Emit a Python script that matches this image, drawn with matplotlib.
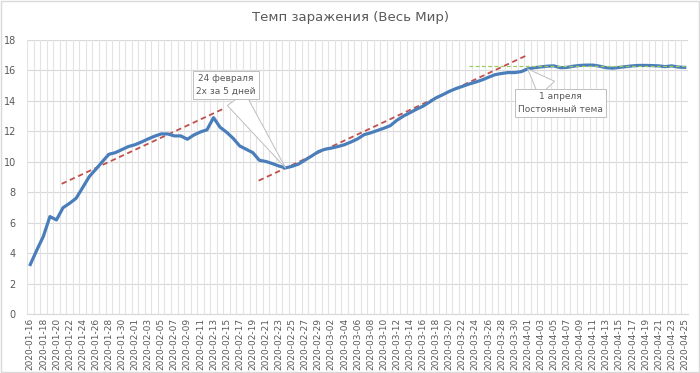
import matplotlib
matplotlib.use("Agg")
import matplotlib.pyplot as plt
from matplotlib.patches import Rectangle
import numpy as np
import pandas as pd

# categories: one per day
dates = pd.date_range("2020-01-16", "2020-04-25", freq="D").strftime("%Y-%m-%d").tolist()

# infection rate
rate = [
    3.25, 4.2, 5.1, 6.4, 6.18, 6.98, 7.27, 7.6, 8.3, 9.02,
    9.5, 10.0, 10.49, 10.6, 10.8, 11.0, 11.12, 11.3, 11.5, 11.68,
    11.83, 11.83, 11.7, 11.7, 11.48, 11.76, 11.96, 12.1, 12.9, 12.27,
    11.94, 11.54, 11.04, 10.82, 10.6, 10.1, 10.02, 9.88, 9.72, 9.6,
    9.7, 9.85, 10.12, 10.38, 10.66, 10.82, 10.9, 11.0, 11.12, 11.3,
    11.5, 11.78, 11.9, 12.05, 12.2, 12.37, 12.72, 13.0, 13.22, 13.45,
    13.65, 13.92, 14.2, 14.4, 14.62, 14.8, 14.95, 15.1, 15.23, 15.37,
    15.55, 15.72, 15.8, 15.86, 15.86, 15.92, 16.1, 16.18, 16.23, 16.28,
    16.3, 16.18, 16.2, 16.28, 16.33, 16.35, 16.35, 16.28, 16.18, 16.15,
    16.2, 16.25, 16.3, 16.33, 16.33, 16.32, 16.3, 16.25, 16.3, 16.22,
    16.2,
]

# trend lines (day index, value)
trend1_x = [4.8, 29.6]
trend1_y = [8.55, 13.5]
trend2_x = [34.9, 75.9]
trend2_y = [8.76, 17.0]
trend3_x = [67, 100]
trend3_y = [16.27, 16.27]

# callouts: (label, day index of point, box position in data units)
callouts = [
    ("24 февраля\n2х за 5 дней", 39, (29.9, 15.05)),
    ("1 апреля\nПостоянный тема", 76, (81.0, 13.86)),
]

grey_text = "#595959"
grid_col = "#D9D9D9"

fig = plt.figure(figsize=(7.0, 3.73), dpi=100)
ax = fig.add_axes([27 / 700, 1 - 314 / 373, (688 - 27) / 700, (314 - 40) / 373])

x = np.arange(len(dates))
n = len(dates)

# gridlines
for v in range(0, 20, 2):
    ax.axhline(v, color=grid_col, lw=0.8, zorder=0)
for b in np.arange(n + 1) - 0.5:
    ax.axvline(b, color="#E3E3E3", lw=0.8, zorder=0)

ax.plot(trend1_x, trend1_y, color="#C0504D", lw=1.3, ls=(0, (3, 2)), zorder=2)
ax.plot(trend2_x, trend2_y, color="#C0504D", lw=1.3, ls=(0, (3, 2)), zorder=2)
ax.plot(x, rate, color="#4A7EBB", lw=2.3, zorder=3, solid_joinstyle="round")
ax.plot(trend3_x, trend3_y, color="#9BCB5E", lw=0.9, ls=(0, (3, 2)), zorder=4)

for label, idx, (bx, by) in callouts:
    ax.annotate(label, xy=(idx, rate[idx]), xytext=(bx, by),
                ha="center", va="center", fontsize=6.5, color=grey_text,
                linespacing=1.5, zorder=6,
                bbox=dict(boxstyle="square,pad=0.35", fc="white", ec="#BFBFBF", lw=0.7),
                arrowprops=dict(arrowstyle="wedge,tail_width=2.4,shrink_factor=0.5",
                                fc="white", ec="#BFBFBF", lw=0.7,
                                shrinkA=0, shrinkB=0))

ax.set_xlim(-0.5, n - 0.5)
ax.set_ylim(0, 18)
ax.set_yticks(range(0, 20, 2))
ax.set_xticks(x[::2])
ax.set_xticklabels(dates[::2], rotation=90, fontsize=6.5, color=grey_text)
ax.tick_params(axis="y", labelsize=7, labelcolor=grey_text, length=0, pad=8)
ax.tick_params(axis="x", length=0, pad=3)
for s in ["top", "right", "left"]:
    ax.spines[s].set_visible(False)
ax.spines["bottom"].set_color(grid_col)

fig.text(0.5, 1 - 18 / 373, "Темп заражения (Весь Мир)", ha="center", va="center",
         fontsize=9.5, color=grey_text)

# chart area border
fig.patches.append(Rectangle((0.002, 0.003), 0.996, 0.994, transform=fig.transFigure,
                             fill=False, ec="#D9D9D9", lw=1))

fig.savefig("out.png", dpi=100)
